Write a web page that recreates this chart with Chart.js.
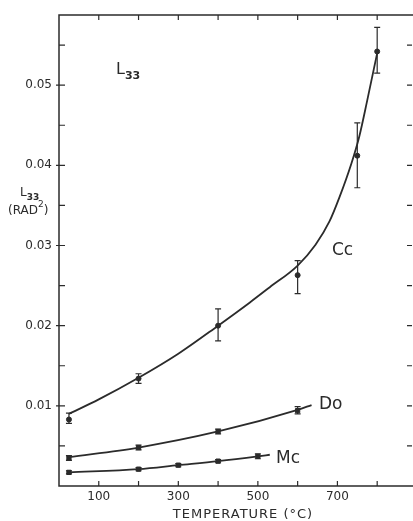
<!DOCTYPE html>
<html>
<head>
<meta charset="utf-8">
<script src="https://cdn.jsdelivr.net/npm/chart.js@4.4.1/dist/chart.umd.min.js"></script>
<style>
  html, body { margin: 0; padding: 0; background: #fff; }
  canvas { display: block; }
</style>
</head>
<body>
<canvas id="c" width="413" height="521"></canvas>
<script>
// measured points (temperature in °C, L33 in rad²)
var ccTemp = [25, 200, 400, 600, 750, 800];
var ccVal  = [0.0083, 0.0134, 0.0200, 0.0263, 0.0412, 0.0542];
var ccLow  = [0.0078, 0.0128, 0.0181, 0.0240, 0.0372, 0.0515];
var ccHigh = [0.0091, 0.0140, 0.0221, 0.0281, 0.0453, 0.0572];

var doTemp = [25, 200, 400, 600];
var doVal  = [0.0035, 0.0048, 0.0068, 0.0094];
var doLow  = [0.0032, 0.0045, 0.0065, 0.0090];
var doHigh = [0.0038, 0.0051, 0.0071, 0.0099];

var mcTemp = [25, 200, 300, 400, 500];
var mcVal  = [0.0017, 0.0021, 0.0026, 0.0031, 0.0037];
var mcLow  = [0.0015, 0.0019, 0.0024, 0.0029, 0.0034];
var mcHigh = [0.0019, 0.0023, 0.0028, 0.0033, 0.0040];

// drawn curves
var ccFitTemp = [25, 100, 200, 300, 400, 480, 530, 600, 645, 680, 705, 735, 755, 775, 800];
var ccFitVal  = [0.0090, 0.0108, 0.0135, 0.0165, 0.0200, 0.0229, 0.0248, 0.0275, 0.0301, 0.0330, 0.0360, 0.0402, 0.0436, 0.0481, 0.0540];
var doFitTemp = [25, 200, 400, 600, 635];
var doFitVal  = [0.0036, 0.0048, 0.0068, 0.0095, 0.0101];
var mcFitTemp = [25, 200, 300, 400, 500, 530];
var mcFitVal  = [0.0017, 0.0021, 0.0026, 0.0031, 0.0037, 0.0039];

var xLabels = [100, 300, 500, 700];
var yLabels = [0.01, 0.02, 0.03, 0.04, 0.05];

var ink = "#2b2b2b";
var font = "'DejaVu Sans', sans-serif";

function pts(xs, ys) {
    return xs.map(function(x, i) { return {x: x, y: ys[i]}; });
}

function fitSet(xs, ys) {
    return {
        data: pts(xs, ys), showLine: true, borderColor: ink, borderWidth: 1.8,
        pointRadius: 0, cubicInterpolationMode: "monotone", fill: false
    };
}

function ptSet(xs, ys, style, r) {
    return {
        data: pts(xs, ys), showLine: false, pointStyle: style, pointRadius: r,
        backgroundColor: ink, borderColor: ink, borderWidth: 1
    };
}

var errors = [
    {t: ccTemp, lo: ccLow, hi: ccHigh},
    {t: doTemp, lo: doLow, hi: doHigh},
    {t: mcTemp, lo: mcLow, hi: mcHigh}
];

function isStep(v, step) {
    var k = v / step;
    return Math.abs(k - Math.round(k)) < 1e-6;
}

function sub(ctx, main, subTxt, x, y, size, subSize) {
    ctx.font = size + "px " + font;
    ctx.fillText(main, x, y);
    var w = ctx.measureText(main).width;
    ctx.font = "bold " + subSize + "px " + font;
    ctx.fillText(subTxt, x + w, y + size * 0.3);
}

var decor = {
    id: "decor",
    afterDatasetsDraw: function(chart) {
        var ctx = chart.ctx, xs = chart.scales.x, ys = chart.scales.y;
        var a = chart.chartArea;
        var edge = chart.width;
        ctx.save();
        ctx.strokeStyle = ink;
        ctx.fillStyle = ink;
        ctx.lineWidth = 1.2;

        // error bars
        errors.forEach(function(e) {
            e.t.forEach(function(t, i) {
                var px = xs.getPixelForValue(t);
                var p1 = ys.getPixelForValue(e.lo[i]);
                var p2 = ys.getPixelForValue(e.hi[i]);
                ctx.beginPath();
                ctx.moveTo(px, p1); ctx.lineTo(px, p2);
                ctx.moveTo(px - 3, p1); ctx.lineTo(px + 3, p1);
                ctx.moveTo(px - 3, p2); ctx.lineTo(px + 3, p2);
                ctx.stroke();
            });
        });

        // frame (plot runs off the right edge of the picture)
        ctx.lineWidth = 1.5;
        ctx.beginPath();
        ctx.moveTo(edge, a.top); ctx.lineTo(a.left, a.top);
        ctx.lineTo(a.left, a.bottom); ctx.lineTo(edge, a.bottom);
        ctx.stroke();

        // inward ticks
        ctx.lineWidth = 1.2;
        ys.ticks.forEach(function(tk) {
            if (!isStep(tk.value, 0.005) || tk.value <= 0) return;
            var py = ys.getPixelForValue(tk.value);
            var major = isStep(tk.value, 0.01);
            ctx.beginPath();
            ctx.moveTo(a.left - (major ? 3 : 0), py); ctx.lineTo(a.left + 6, py);
            ctx.moveTo(edge - 6, py); ctx.lineTo(edge - 1, py);
            ctx.stroke();
        });
        xs.ticks.forEach(function(tk) {
            if (tk.value <= 0 || !isStep(tk.value, 100)) return;
            var px = xs.getPixelForValue(tk.value);
            ctx.beginPath();
            ctx.moveTo(px, a.top); ctx.lineTo(px, a.top + 5);
            ctx.moveTo(px, a.bottom); ctx.lineTo(px, a.bottom - 5);
            ctx.stroke();
        });

        // text
        ctx.textBaseline = "alphabetic";
        ctx.textAlign = "left";
        sub(ctx, "L", "33", 116, 74, 16, 11);
        sub(ctx, "L", "33", 20, 196, 12, 9);
        ctx.font = "12px " + font;
        ctx.fillText("(RAD", 8, 214);
        var w = ctx.measureText("(RAD").width;
        ctx.font = "9px " + font;
        ctx.fillText("2", 8 + w, 207);
        var w2 = ctx.measureText("2").width;
        ctx.font = "12px " + font;
        ctx.fillText(")", 8 + w + w2, 214);

        ctx.font = "17px " + font;
        ctx.fillText("Cc", 332, 255);
        ctx.fillText("Do", 319, 409);
        ctx.fillText("Mc", 276, 463);

        ctx.font = "13px " + font;
        ctx.textAlign = "center";
        if ("letterSpacing" in ctx) ctx.letterSpacing = "1px";
        ctx.fillText("TEMPERATURE (\u00b0C)", 243, 518);
        ctx.restore();
    }
};

new Chart(document.getElementById("c").getContext("2d"), {
    type: "scatter",
    data: {
        datasets: [
            fitSet(ccFitTemp, ccFitVal),
            fitSet(doFitTemp, doFitVal),
            fitSet(mcFitTemp, mcFitVal),
            ptSet(ccTemp, ccVal, "circle", 2.5),
            ptSet(doTemp, doVal, "rect", 3),
            ptSet(mcTemp, mcVal, "rect", 3)
        ]
    },
    options: {
        responsive: false,
        animation: false,
        devicePixelRatio: 1,
        layout: {autoPadding: false, padding: {top: 15, right: 0, left: 0, bottom: 0}},
        plugins: {legend: {display: false}, tooltip: {enabled: false}},
        scales: {
            x: {
                type: "linear", min: 0, max: 880,
                grid: {display: false, drawTicks: false},
                border: {display: false},
                ticks: {
                    stepSize: 100, padding: 4, color: ink, maxRotation: 0, autoSkip: false,
                    font: {family: font, size: 12},
                    callback: function(v) { return xLabels.indexOf(v) >= 0 ? String(v) : ""; }
                },
                afterFit: function(s) { s.height = 35; }
            },
            y: {
                type: "linear", min: 0, max: 0.05875,
                grid: {display: false, drawTicks: false},
                border: {display: false},
                ticks: {
                    stepSize: 0.005, padding: 7, color: ink, autoSkip: false,
                    font: {family: font, size: 12},
                    callback: function(v) {
                        for (var i = 0; i < yLabels.length; i++) {
                            if (Math.abs(yLabels[i] - v) < 1e-6) return yLabels[i].toFixed(2);
                        }
                        return "";
                    }
                },
                afterFit: function(s) { s.width = 59; }
            }
        }
    },
    plugins: [decor]
});
</script>
</body>
</html>
